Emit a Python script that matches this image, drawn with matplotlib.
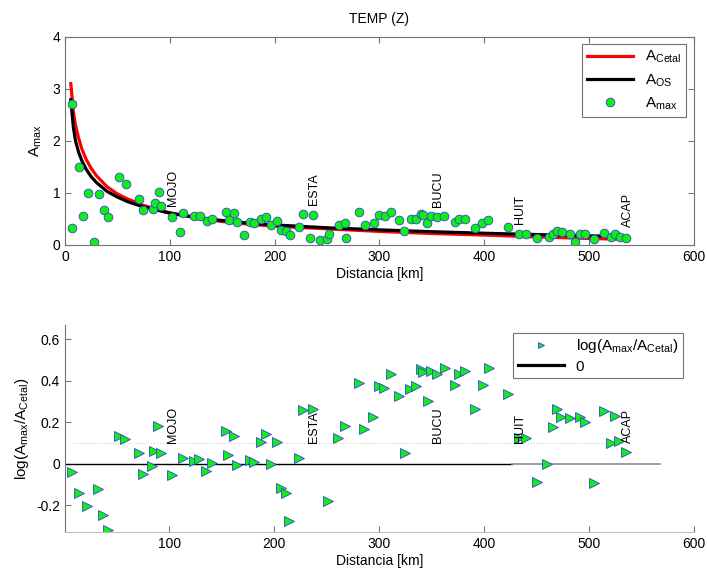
import numpy as np
import matplotlib
matplotlib.use("Agg")
import matplotlib.pyplot as plt

plt.rcParams['font.family'] = ['Liberation Sans', 'DejaVu Sans']
plt.rcParams['mathtext.fontset'] = 'custom'
plt.rcParams['mathtext.rm'] = 'Liberation Sans'
plt.rcParams['mathtext.it'] = 'Liberation Sans'
plt.rcParams['mathtext.default'] = 'regular'

# --- datos ---
# A_max observado (panel superior)
dist_obs = [6.4, 6.4, 13.3, 16.9, 21.9, 27.9, 32.1, 36.9, 40.7, 51.4, 57.8, 70.5, 74.6,
            83.5, 86.0, 89.8, 91.7, 102.2, 109.8, 113.0, 123.1, 128.9, 135.2, 140.3,
            153.6, 156.2, 161.0, 164.1, 170.5, 176.8, 180.3, 187.0, 191.7, 196.5, 202.2,
            206.0, 211.1, 214.3, 223.2, 227.0, 233.7, 237.1, 243.2, 249.8, 251.7, 261.2,
            267.6, 267.9, 281.0, 286.0, 294.6, 299.7, 305.0, 311.0, 318.7, 324.0, 329.8,
            335.0, 339.4, 342.0, 346.0, 349.5, 355.0, 362.2, 372.0, 376.0, 381.9, 391.0,
            398.4, 404.0, 423.0, 433.7, 440.3, 450.5, 461.6, 465.7, 469.5, 474.0, 481.9,
            486.7, 491.7, 496.2, 504.8, 514.9, 521.0, 524.8, 529.5, 535.2]
amax_obs = [2.70, 0.32, 1.49, 0.56, 0.99, 0.05, 0.97, 0.67, 0.53, 1.31, 1.18, 0.89, 0.67,
            0.69, 0.80, 1.02, 0.75, 0.54, 0.24, 0.61, 0.55, 0.55, 0.46, 0.49,
            0.64, 0.48, 0.61, 0.44, 0.19, 0.44, 0.42, 0.50, 0.53, 0.38, 0.46,
            0.28, 0.27, 0.19, 0.35, 0.59, 0.13, 0.58, 0.10, 0.12, 0.21, 0.38,
            0.43, 0.13, 0.63, 0.38, 0.42, 0.58, 0.55, 0.63, 0.48, 0.26, 0.50,
            0.50, 0.60, 0.58, 0.42, 0.56, 0.53, 0.56, 0.45, 0.49, 0.50, 0.33,
            0.42, 0.48, 0.35, 0.21, 0.21, 0.13, 0.15, 0.21, 0.26, 0.24, 0.22,
            0.06, 0.22, 0.21, 0.12, 0.23, 0.16, 0.21, 0.16, 0.14]

# curvas de atenuacion
dist_cetal = [5.5, 8, 10, 13, 16, 20, 25, 30, 40, 50, 60, 75, 90, 100, 125, 150, 175,
              200, 250, 300, 350, 400, 450, 500, 530]
a_cetal = [3.10, 2.55, 2.30, 2.05, 1.85, 1.65, 1.47, 1.33, 1.12, 0.98, 0.88, 0.76, 0.67,
           0.62, 0.52, 0.45, 0.40, 0.36, 0.31, 0.26, 0.22, 0.19, 0.155, 0.125, 0.11]
dist_os = [5.5, 8, 10, 13, 16, 20, 25, 30, 40, 50, 60, 75, 90, 100, 125, 150, 175,
           200, 250, 300, 350, 400, 450, 500, 517]
a_os = [2.79, 2.25, 2.00, 1.78, 1.62, 1.46, 1.31, 1.20, 1.03, 0.92, 0.83, 0.73, 0.66,
        0.61, 0.53, 0.47, 0.42, 0.385, 0.33, 0.29, 0.255, 0.225, 0.20, 0.175, 0.17]

# log(Amax/ACetal) (panel inferior)
dist_res = [7.3, 13.6, 21.9, 32.1, 36.8, 41.3, 51.7, 58.0, 70.8, 74.6, 83.8, 85.7, 89.5,
            91.7, 102.2, 112.7, 123.1, 128.6, 135.0, 140.3, 153.6, 155.9, 161.2, 164.4,
            176.8, 180.6, 187.6, 191.7, 196.5, 202.2, 206.4, 210.8, 214.3, 223.5, 227.3,
            237.4, 251.4, 261.2, 268.0, 281.0, 285.7, 294.6, 299.7, 305.0, 311.7, 319.0,
            324.4, 329.5, 335.0, 339.7, 342.2, 346.4, 349.5, 355.0, 362.5, 372.4, 375.9,
            381.9, 391.7, 399.0, 404.8, 423.2, 433.3, 439.7, 450.8, 460.3, 465.7, 469.5,
            474.0, 482.5, 491.7, 496.2, 504.8, 514.9, 521.0, 524.8, 528.9, 535.5]
log_res = [-0.040, -0.140, -0.205, -0.120, -0.244, -0.320, 0.136, 0.120, 0.054, -0.050,
           -0.010, 0.064, 0.180, 0.054, -0.054, 0.030, 0.013, 0.022, -0.035, 0.003,
           0.160, 0.043, 0.135, -0.007, 0.019, 0.008, 0.104, 0.142, -0.002, 0.104,
           -0.117, -0.140, -0.276, 0.027, 0.260, 0.263, -0.178, 0.123, 0.183, 0.390,
           0.168, 0.224, 0.375, 0.364, 0.430, 0.328, 0.050, 0.360, 0.372, 0.455,
           0.442, 0.301, 0.447, 0.430, 0.460, 0.377, 0.433, 0.444, 0.263, 0.378,
           0.461, 0.338, 0.123, 0.125, -0.088, 0.000, 0.176, 0.263, 0.224, 0.219,
           0.226, 0.200, -0.090, 0.256, 0.102, 0.229, 0.110, 0.056]

# estaciones
est_nombre = ['MOJO', 'ESTA', 'BUCU', 'HUIT', 'ACAP']
est_dist = [103, 238, 356, 434, 537]
est_y_top = [0.74, 0.77, 0.72, 0.40, 0.34]

verde = '#11ee11'
azul = '#3344dd'

fig = plt.figure(figsize=(7.07, 5.75), dpi=100)

# ---------- panel superior ----------
ax1 = fig.add_axes([0.092, 0.574, 0.889, 0.362])
ax1.plot(dist_cetal, a_cetal, '-', color='#ff0000', lw=2.3, label='$A_{Cetal}$')
ax1.plot(dist_os, a_os, '-', color='k', lw=2.3, label='$A_{OS}$')
ax1.plot(dist_obs, amax_obs, 'o', ms=6.3, mfc=verde, mec=azul, mew=0.6, ls='none',
         label='$A_{max}$')
for n, d, y in zip(est_nombre, est_dist, est_y_top):
    ax1.text(d, y, n, rotation=90, ha='center', va='bottom', fontsize=9)
ax1.set_xlim(0, 600)
ax1.set_ylim(0, 4)
ax1.set_xticks(np.arange(0, 601, 100))
ax1.set_yticks(np.arange(0, 5, 1))
ax1.tick_params(direction='in', top=True, right=True, labelsize=10, length=4,
                color='0.45')
for s in ax1.spines.values():
    s.set_color('0.45')
ax1.set_xlabel('Distancia [km]', fontsize=10, labelpad=2)
ax1.set_ylabel('$A_{max}$', fontsize=11, labelpad=6)
ax1.set_title('TEMP (Z)', fontsize=10, pad=10)
leg1 = ax1.legend(loc='upper right', fontsize=11, handlelength=3.0, borderpad=0.3,
                  labelspacing=0.45, fancybox=False, framealpha=1, borderaxespad=0.5)
leg1.get_frame().set_edgecolor('0.45')
leg1.get_frame().set_linewidth(0.8)

# ---------- panel inferior ----------
ax2 = fig.add_axes([0.092, 0.075, 0.889, 0.36])
ax2.plot([6.4, 535], [0.1, 0.1], ':', color='0.82', lw=0.8)
ax2.plot([0, 427], [0, 0], '-', color='k', lw=1.0)
ax2.plot([427, 568], [0, 0], '-', color='0.55', lw=1.2)
ax2.plot(dist_res, log_res, '>', ms=6.8, mfc=verde, mec=azul, mew=0.6, ls='none')
for n, d in zip(est_nombre, est_dist):
    ax2.text(d, 0.1, n, rotation=90, ha='center', va='bottom', fontsize=9)
ax2.set_xlim(0.5, 600)
ax2.set_ylim(-0.327, 0.668)
ax2.set_xticks(np.arange(100, 601, 100))
ax2.set_yticks([-0.2, 0, 0.2, 0.4, 0.6])
ax2.set_yticklabels(['-0.2', '0', '0.2', '0.4', '0.6'])
ax2.spines['top'].set_visible(False)
ax2.spines['right'].set_visible(False)
ax2.spines['left'].set_color('0.45')
ax2.spines['bottom'].set_color('0.75')
ax2.tick_params(direction='in', labelsize=10, length=4, color='0.45')
ax2.set_xlabel('Distancia [km]', fontsize=10, labelpad=2)
ax2.set_ylabel('log($A_{max}$/$A_{Cetal}$)', fontsize=11, labelpad=4)

h_tri, = ax2.plot([], [], '>', ms=4.5, mfc=verde, mec=azul, mew=0.6, ls='none')
h_cero, = ax2.plot([], [], '-', color='k', lw=2.3)
leg2 = ax2.legend([h_tri, h_cero], ['log($A_{max}$/$A_{Cetal}$)', '0'],
                  loc='upper right', bbox_to_anchor=(0.995, 1.0), fontsize=11,
                  handlelength=3.0, borderpad=0.3, labelspacing=0.3, fancybox=False,
                  framealpha=1)
leg2.get_frame().set_edgecolor('0.45')
leg2.get_frame().set_linewidth(0.8)

fig.savefig('out.png', dpi=100)
